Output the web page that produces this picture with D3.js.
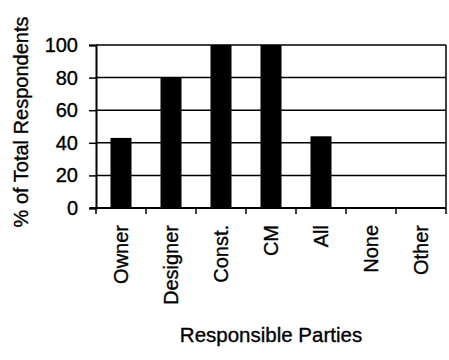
<!DOCTYPE html>
<html>
<head>
<meta charset="utf-8">
<script src="https://cdn.jsdelivr.net/npm/d3@7"></script>
<style>
  html, body { margin: 0; padding: 0; background: #fff; }
  svg { display: block; font-family: "Liberation Sans", Arial, sans-serif; }
  text { fill: #000; stroke: #000; stroke-width: 0.35px; }
</style>
</head>
<body>
<script>
const categories = ["Owner", "Designer", "Const.", "CM", "All", "None", "Other"];
const values = [43, 80, 100, 100, 44, 0, 0];
const yTicks = [0, 20, 40, 60, 80, 100];
const xTitle = "Responsible Parties";
const yTitle = "% of Total Respondents";

const W = 449, H = 360;
const m = { left: 96, right: 3, top: 45, bottom: 152 };

const svg = d3.select("body").append("svg").attr("width", W).attr("height", H);

const x = d3.scaleBand().domain(categories).range([m.left, W - m.right]).padding(0);
const y = d3.scaleLinear().domain([0, 100]).range([H - m.bottom, m.top]);

// gridlines
svg.append("g").selectAll("line").data(yTicks.filter(d => d > 0)).join("line")
  .attr("x1", m.left).attr("x2", W - m.right)
  .attr("y1", d => y(d)).attr("y2", d => y(d))
  .attr("stroke", "#000").attr("stroke-width", 1.5);

// right border
svg.append("line").attr("x1", W - m.right).attr("x2", W - m.right)
  .attr("y1", y(100)).attr("y2", y(0)).attr("stroke", "#000").attr("stroke-width", 1.5);

// bars
const bw = x.bandwidth() * 0.42;
svg.append("g").selectAll("rect").data(categories).join("rect")
  .attr("x", (d) => x(d) + (x.bandwidth() - bw) / 2)
  .attr("width", bw)
  .attr("y", (d, i) => y(values[i]))
  .attr("height", (d, i) => y(0) - y(values[i]))
  .attr("fill", "#000");

// y axis
const yAxis = svg.append("g").attr("transform", `translate(${m.left},0)`)
  .call(d3.axisLeft(y).tickValues(yTicks).tickSize(7).tickPadding(11).tickFormat(d3.format("d")));
yAxis.select(".domain").attr("stroke-width", 2);
yAxis.selectAll(".tick line").attr("stroke-width", 1.5);
yAxis.selectAll("text").attr("font-size", 20).attr("font-family", "Liberation Sans, Arial, sans-serif");

// x axis
const xAxis = svg.append("g").attr("transform", `translate(0,${y(0)})`)
  .call(d3.axisBottom(x).tickSize(0).tickPadding(0));
xAxis.select(".domain").remove();
svg.append("line").attr("x1", m.left - 6).attr("x2", W - m.right)
  .attr("y1", y(0)).attr("y2", y(0)).attr("stroke", "#000").attr("stroke-width", 2);
// tick marks at band boundaries
const bounds = categories.map(c => x(c)).concat([x(categories[categories.length - 1]) + x.bandwidth()]);
svg.append("g").selectAll("line").data(bounds).join("line")
  .attr("x1", d => d).attr("x2", d => d)
  .attr("y1", y(0)).attr("y2", y(0) + 6)
  .attr("stroke", "#000").attr("stroke-width", 1.5);

xAxis.selectAll("text")
  .attr("font-size", 20).attr("font-family", "Liberation Sans, Arial, sans-serif")
  .attr("transform", "rotate(-90)")
  .attr("text-anchor", "end")
  .attr("x", -17).attr("y", 0).attr("dy", "0.35em");

// titles
svg.append("text").attr("x", (m.left + W - m.right) / 2).attr("y", 342)
  .attr("text-anchor", "middle").attr("font-size", 20.5).text(xTitle);
svg.append("text").attr("transform", `translate(21,122) rotate(-90)`)
  .attr("text-anchor", "middle").attr("dy", "0.35em").attr("font-size", 20).text(yTitle);
</script>
</body>
</html>
